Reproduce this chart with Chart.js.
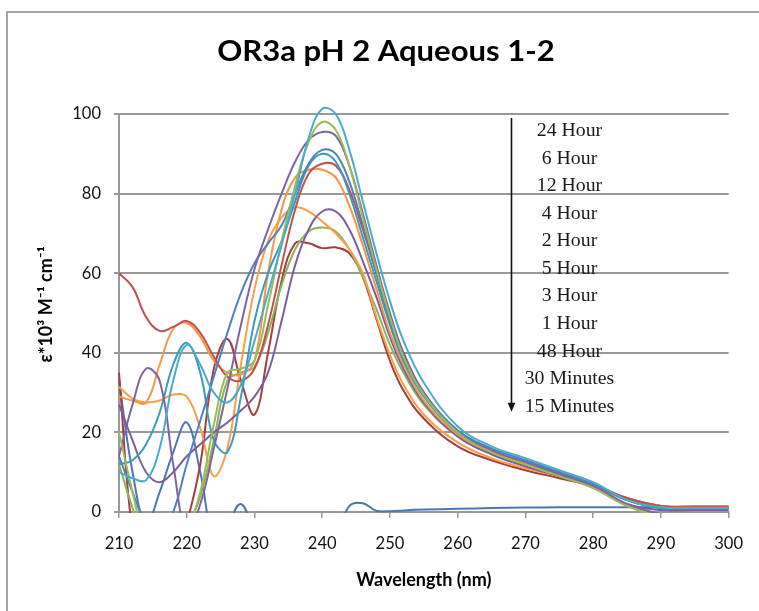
<!DOCTYPE html>
<html>
<head>
<meta charset="utf-8">
<script src="https://cdn.jsdelivr.net/npm/chart.js@4.4.1/dist/chart.umd.min.js"></script>
<style>
  html, body { margin: 0; padding: 0; background: #ffffff; }
  body { width: 759px; height: 611px; position: relative; overflow: hidden; }
  .frame { position: absolute; left: 6px; top: 11px; width: 800px; height: 700px;
           border-left: 2px solid #a6a6a6; border-top: 2px solid #a6a6a6; }
  canvas { position: absolute; left: 0; top: 0; }
</style>
</head>
<body>
<div class="frame"></div>
<canvas id="c" width="759" height="611"></canvas>
<script>
// Wavelength grid (nm) shared by every spectrum
const wavelengths = [210,212,214,216,218,220,222,224,226,228,230,232,234,236,238,240,242,244,246,248,250,252,255,260,265,270,275,280,285,290,295,300];

// Molar absorptivity (ε × 10^3 M^-1 cm^-1) per time point
const hour24 = [10,8.5,8,16,33,42,37,30,27.5,32,43,55,67,80,94,101.3,100,91,78,65,53,43,32.5,21.5,16.5,13.5,10.5,7.5,3,1.2,1,1];
const hour6  = [20,5,-8,-12,-10,-5,5,22,35,36,38,52,68,82,93,98,96,87,74,61,49,39,29.5,20,15,12,9,6,1.5,-1,-1,-1];
const hour12 = [14,27,36,33,12,-5,2,16,31,47,61,71,80,88,93.5,95.5,94.5,87,75,62,50,40,30,20,15.5,12.5,9.5,6.5,2,-0.5,-1,-1];
const hour4  = [14,5,-3,-6,0,12,23,34,45,55,62.5,67.5,72,80,87.5,91,90,83,72,60,48,39,30,20.5,16,13,10,7,3,1,0.8,0.8];
const hour2  = [12,13,17,25,37,42.5,35,18,15,29,48,60,68,78,87,90,88,80,69,58,47,38,29,20,15.5,12.5,9.5,7,3,1,1,1];
const hour5  = [60,56.5,49,45.5,46.5,48,45,39,34,33,36,47,62,76,85,87.5,87,81,71,60,49,40,30,20.5,15.5,12.5,10,7,3.5,1.5,1.2,1.2];
const hour3  = [29,28,27.5,37,46,47.5,44,38,35,34.5,38,60,76,84,86,86,84,77,67,56,45,37,28,19.5,15,12,9.5,7,3.5,1.5,1.2,1.2];
const hour1  = [27,18,10,7.5,10,14,17,20,22.5,25.5,29,35,48,62,71,75.5,75.5,71,63,54,44,36,27.5,19,14.5,11.5,9,6.5,2,0.5,0.5,0.5];
const hour48 = [31.5,28.5,27.5,28,29.5,29,21,9,16,37,56,68,74,76.5,75.5,73,70,66,60,49,39.5,32,24.5,17.5,13.5,11,9,6.5,3,1,1,1];
const min30  = [12,1,-8,-10,-8,-4,4,18,33,35,36.5,45,57,66,70.5,71.5,70.5,66,59,51,42,35,27,19,14.5,11.5,9,6.5,3,1.5,1.5,1.5];
const min15  = [35,-5,-15,-20,-15,-3,12,36,43.5,33,24.5,40,58,67.5,67.5,66.3,66.5,65,59,48.5,38,30.5,23.5,16.5,13,10.5,8.5,6.5,3.5,1.5,1,1];
const min0   = [33,10,-3,5,15,22.5,10,-6,-3,2,-5,-10,-8,-2,-3,-8,-6,1.5,2.2,0.3,0.2,0.4,0.6,0.8,1,1.1,1.2,1.2,1.2,1.2,1.2,1.2];

// Time labels listed beside the arrow, top to bottom
const timeLabels = ['24 Hour','6 Hour','12 Hour','4 Hour','2 Hour','5 Hour','3 Hour','1 Hour','48 Hour','30 Minutes','15 Minutes'];

const yTicks = [0,20,40,60,80,100];
const xTicks = [210,220,230,240,250,260,270,280,290,300];

const chartTitle = 'OR3a pH 2 Aqueous 1-2';

const series = [
  { label: '24 Hour',    values: hour24, color: '#4BACC6' },
  { label: '6 Hour',     values: hour6,  color: '#9BBB59' },
  { label: '12 Hour',    values: hour12, color: '#8064A2' },
  { label: '4 Hour',     values: hour4,  color: '#4F81BD' },
  { label: '2 Hour',     values: hour2,  color: '#3C9BBB' },
  { label: '5 Hour',     values: hour5,  color: '#C0504D' },
  { label: '3 Hour',     values: hour3,  color: '#F79646' },
  { label: '1 Hour',     values: hour1,  color: '#7B5E9E' },
  { label: '48 Hour',    values: hour48, color: '#F6A04C' },
  { label: '30 Minutes', values: min30,  color: '#8DB35A' },
  { label: '15 Minutes', values: min15,  color: '#A33F3C' },
  { label: '0 Minutes',  values: min0,   color: '#4A78B5' }
];

const datasets = series.map(s => ({
  label: s.label,
  data: wavelengths.map((w, i) => ({ x: w, y: s.values[i] })),
  borderColor: s.color,
  backgroundColor: s.color,
  borderWidth: 2,
  pointRadius: 0,
  tension: 0.4,
  fill: false,
  clip: { left: 1, right: 1, top: 12, bottom: 1 }
}));

// Chart heading, centred over the frame
const heading = {
  id: 'heading',
  afterDraw(chart) {
    const { ctx } = chart;
    ctx.save();
    ctx.font = 'bold 29px Lato';
    ctx.fillStyle = '#000';
    ctx.textAlign = 'center';
    ctx.textBaseline = 'alphabetic';
    ctx.translate(386, 61);
    ctx.scale(1.07, 1);
    ctx.fillText(chartTitle, 0, 0);
    ctx.restore();
  }
};

// Arrow with the time-ordered list next to it
const timeList = {
  id: 'timeList',
  afterDatasetsDraw(chart) {
    const { ctx, scales: { x, y } } = chart;
    ctx.save();
    const ax = Math.round(x.getPixelForValue(267.9)) + 0.5;
    const aTop = y.getPixelForValue(99);
    const aTip = y.getPixelForValue(25.2);
    ctx.strokeStyle = '#111';
    ctx.fillStyle = '#111';
    ctx.lineWidth = 1.6;
    ctx.beginPath();
    ctx.moveTo(ax, aTop);
    ctx.lineTo(ax, aTip - 8);
    ctx.stroke();
    ctx.beginPath();
    ctx.moveTo(ax - 3.8, aTip - 9);
    ctx.lineTo(ax + 3.8, aTip - 9);
    ctx.lineTo(ax, aTip);
    ctx.closePath();
    ctx.fill();
    ctx.font = '18px "Liberation Serif", "Times New Roman", serif';
    ctx.textAlign = 'center';
    ctx.textBaseline = 'alphabetic';
    ctx.fillStyle = '#1a1a1a';
    const cx = x.getPixelForValue(276.5);
    timeLabels.forEach((t, i) => {
      const by = y.getPixelForValue(94.35 - i * 6.91);
      ctx.save();
      ctx.translate(cx, by);
      ctx.scale(1.1, 1);
      ctx.fillText(t, 0, 0);
      ctx.restore();
    });
    ctx.restore();
  }
};

new Chart(document.getElementById('c'), {
  type: 'line',
  data: { datasets },
  options: {
    responsive: false,
    animation: false,
    devicePixelRatio: 1,
    layout: { padding: { left: 0, right: 28, top: 114, bottom: 0 } },
    plugins: {
      legend: { display: false },
      tooltip: { enabled: false },
      title: { display: false }
    },
    scales: {
      x: {
        type: 'linear',
        min: 210, max: 300,
        afterFit(s) { s.height = 611 - 512; },
        afterBuildTicks(s) { s.ticks = xTicks.map(v => ({ value: v })); },
        grid: { drawOnChartArea: false, drawTicks: true, tickLength: 6, color: '#999', lineWidth: 1.5 },
        border: { display: true, color: '#999', width: 2 },
        ticks: { color: '#111', padding: 16, font: { family: 'Lato', size: 16.5 }, maxRotation: 0 },
        title: {
          display: true, text: 'Wavelength (nm)', color: '#000',
          font: { family: 'Lato', size: 18, weight: 'bold', lineHeight: 1.2 },
          padding: { top: 0, bottom: 20.2 }
        }
      },
      y: {
        min: 0, max: 100,
        afterFit(s) { s.width = 119; },
        afterBuildTicks(s) { s.ticks = yTicks.map(v => ({ value: v })); },
        grid: { drawTicks: true, tickLength: 5, color: '#999', lineWidth: 2 },
        border: { display: true, color: '#999', width: 2 },
        ticks: { color: '#111', padding: 13, font: { family: 'Lato', size: 16.5 } },
        title: {
          display: true, text: '    ε*10³ M⁻¹ cm⁻¹', color: '#000',
          font: { family: 'Lato', size: 18, weight: 'bold', lineHeight: 1.2 },
          padding: { top: 35, bottom: 0 }
        }
      }
    }
  },
  plugins: [timeList, heading]
});
</script>
</body>
</html>
